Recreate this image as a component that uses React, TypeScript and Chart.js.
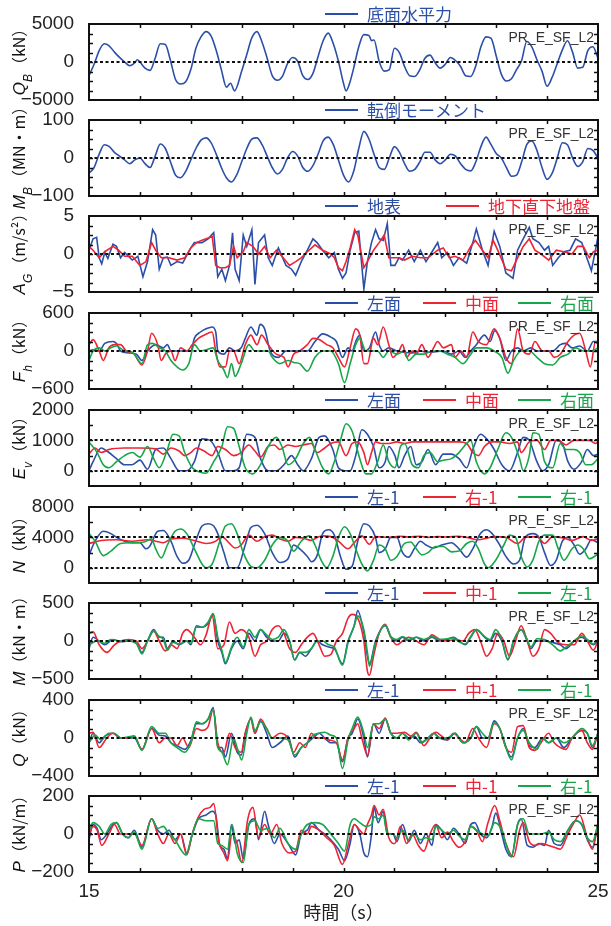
import React, { useEffect, useRef } from 'react';
import { Chart, registerables } from 'chart.js';
Chart.register(...registerables);

type P = [number, number][];

const BLUE = '#2b4fa8';
const RED = '#ee2435';
const GREEN = '#18a64a';

// Panel 1: Q_B (kN)
const qbBase: P = [[15.0,-1800],[15.1,-300],[15.2,1500],[15.3,2400],[15.4,2100],[15.5,1300],[15.6,600],[15.7,0],[15.8,-500],[15.9,-100],[15.95,300],[16.0,0],[16.1,-800],[16.2,-1100],[16.3,500],[16.4,2400],[16.5,2300],[16.6,200],[16.7,-2300],[16.8,-2900],[16.9,-2600],[17.0,-1000],[17.1,1800],[17.2,3300],[17.3,4000],[17.4,3400],[17.5,1500],[17.6,-1000],[17.7,-3300],[17.78,-2800],[17.86,-3800],[18.0,-1200],[18.1,1000],[18.2,3200],[18.3,4000],[18.4,2600],[18.5,500],[18.6,-1800],[18.7,-2400],[18.8,-1900],[18.9,-200],[19.0,600],[19.1,100],[19.2,-1800],[19.3,-2300],[19.4,-1500],[19.5,700],[19.6,2800],[19.7,3800],[19.8,2400],[19.9,100],[20.0,-2800],[20.05,-3800],[20.12,-2800],[20.2,-800],[20.3,2000],[20.4,3600],[20.5,3500],[20.55,2800],[20.6,2900],[20.7,100],[20.8,-1200],[20.9,-1000],[21.0,1800],[21.1,1200],[21.2,-600],[21.3,-1800],[21.4,-1900],[21.5,-1000],[21.6,500],[21.7,900],[21.8,-100],[21.9,-800],[22.0,-300],[22.1,600],[22.2,200],[22.3,-600],[22.4,-1800],[22.5,-1900],[22.6,-500],[22.7,2000],[22.8,3300],[22.9,3100],[23.0,800],[23.1,-1600],[23.2,-2500],[23.3,-2200],[23.4,-1000],[23.5,200],[23.6,2700],[23.7,2000],[23.8,300],[23.9,-1200],[24.0,-3200],[24.1,-2000],[24.2,-200],[24.3,1600],[24.4,2800],[24.5,1300],[24.6,-800],[24.7,-700],[24.8,1500],[24.9,2000],[25.0,500]];

// Panel 2: M_B (MN・m)
const mbBase: P = [[15.0,-40],[15.1,-25],[15.2,10],[15.3,35],[15.4,30],[15.5,15],[15.6,5],[15.7,-5],[15.8,-15],[15.9,-5],[16.0,0],[16.1,-15],[16.2,-25],[16.3,5],[16.4,37],[16.5,25],[16.6,-10],[16.7,-45],[16.8,-52],[16.9,-35],[17.0,-5],[17.1,25],[17.2,47],[17.3,53],[17.4,40],[17.5,10],[17.6,-25],[17.7,-52],[17.8,-63],[17.9,-45],[18.0,-10],[18.1,25],[18.2,50],[18.3,53],[18.4,35],[18.5,5],[18.6,-25],[18.7,-42],[18.8,-30],[18.9,0],[19.0,17],[19.1,5],[19.2,-25],[19.3,-35],[19.4,-20],[19.5,10],[19.6,45],[19.7,55],[19.8,35],[19.9,-5],[20.0,-45],[20.1,-63],[20.2,-35],[20.3,25],[20.4,70],[20.5,50],[20.6,10],[20.7,-25],[20.8,-30],[20.9,0],[21.0,30],[21.1,15],[21.2,-15],[21.3,-35],[21.4,-30],[21.5,-10],[21.6,15],[21.7,15],[21.8,-5],[21.9,-15],[22.0,-5],[22.1,10],[22.2,5],[22.3,-15],[22.4,-30],[22.5,-34],[22.6,-10],[22.7,30],[22.8,55],[22.9,35],[23.0,12],[23.1,0],[23.2,-25],[23.3,-48],[23.4,-45],[23.5,-10],[23.6,35],[23.7,45],[23.8,20],[23.9,-25],[24.0,-56],[24.1,-40],[24.2,0],[24.3,40],[24.4,35],[24.5,0],[24.6,-22],[24.7,-10],[24.8,25],[24.9,20],[25.0,0]];

// Panel 3: A_G (m/s2)
const agSurface: P = [[15.00,0.5],[15.08,2.0],[15.15,2.2],[15.20,-0.5],[15.25,-1.3],[15.31,0.2],[15.37,-0.6],[15.47,1.3],[15.54,1.0],[15.62,-0.5],[15.70,0.2],[15.85,-0.8],[15.96,-0.3],[16.06,-3.0],[16.15,-1.0],[16.25,3.2],[16.31,2.5],[16.38,-2.0],[16.46,-0.5],[16.54,-0.4],[16.61,-1.5],[16.73,-1.0],[16.84,-1.2],[17.00,0.8],[17.07,1.5],[17.22,1.5],[17.34,2.0],[17.45,2.8],[17.53,-3.0],[17.61,-2.0],[17.68,-3.5],[17.76,-1.5],[17.82,2.8],[17.87,-2.0],[17.95,-3.5],[18.03,2.5],[18.10,1.0],[18.20,3.2],[18.26,-4.0],[18.33,1.5],[18.45,2.5],[18.52,-0.5],[18.60,-1.5],[18.72,0.8],[18.87,-1.5],[18.98,-2.0],[19.06,-2.8],[19.17,-1.0],[19.29,0.5],[19.40,2.0],[19.48,1.5],[19.59,0.5],[19.71,-0.5],[19.82,0.2],[19.90,-2.0],[19.98,-3.2],[20.05,-2.5],[20.13,0.5],[20.22,2.8],[20.30,3.0],[20.40,-4.6],[20.47,-1.0],[20.55,1.5],[20.63,3.2],[20.70,2.0],[20.78,1.8],[20.86,4.0],[20.93,-1.5],[21.01,-1.5],[21.09,-0.5],[21.16,-0.8],[21.28,0.5],[21.39,-1.0],[21.51,0.5],[21.62,-1.0],[21.74,0.3],[21.85,1.5],[21.93,-0.5],[22.04,0.2],[22.16,-1.5],[22.27,-0.5],[22.42,-1.2],[22.54,1.5],[22.61,3.3],[22.73,0.5],[22.84,-1.5],[22.96,3.0],[23.07,1.0],[23.19,-2.5],[23.33,-3.2],[23.42,0.5],[23.53,2.0],[23.65,3.5],[23.72,2.0],[23.84,1.5],[23.95,0.5],[24.03,1.0],[24.11,-1.5],[24.22,-0.5],[24.33,0.3],[24.45,0.5],[24.56,2.0],[24.68,1.5],[24.78,-0.5],[24.87,-2.2],[24.95,0.5],[25.00,2.3]];
const agUnder: P = [[15.00,1.0],[15.08,0.5],[15.20,-0.5],[15.31,0.3],[15.47,1.0],[15.58,0.5],[15.70,-0.3],[15.85,-0.3],[16.00,-1.5],[16.12,-1.0],[16.23,1.5],[16.31,0.5],[16.42,-0.5],[16.57,-0.5],[16.73,-0.8],[16.88,-0.5],[17.00,0.8],[17.11,1.5],[17.22,1.8],[17.42,2.3],[17.49,-1.5],[17.57,-1.8],[17.68,-1.8],[17.76,-1.5],[17.84,1.0],[17.91,-0.5],[18.03,0.3],[18.10,1.5],[18.22,1.0],[18.33,0.0],[18.45,1.0],[18.56,-0.5],[18.68,0.5],[18.79,-0.3],[18.94,-1.5],[19.06,-1.0],[19.17,-0.5],[19.29,0.3],[19.44,1.2],[19.59,0.5],[19.75,0.0],[19.82,-0.5],[19.90,-1.8],[19.98,-2.2],[20.05,-1.0],[20.13,0.8],[20.22,3.2],[20.28,2.5],[20.40,-1.8],[20.47,-1.0],[20.59,0.5],[20.70,1.5],[20.80,2.5],[20.89,-0.5],[20.97,-0.5],[21.09,-0.5],[21.20,-0.8],[21.35,-0.3],[21.51,-0.5],[21.66,-0.5],[21.85,0.5],[21.96,0.8],[22.08,-0.5],[22.19,-0.3],[22.35,-0.8],[22.50,1.0],[22.59,1.8],[22.73,0.5],[22.84,-0.5],[22.94,1.8],[23.03,0.5],[23.19,-2.0],[23.30,-2.2],[23.42,-0.5],[23.53,1.0],[23.65,2.0],[23.76,0.5],[23.88,0.0],[24.03,-0.8],[24.18,0.5],[24.33,0.3],[24.49,0.0],[24.60,1.0],[24.71,1.0],[24.83,-0.5],[24.91,0.3],[25.00,0.5]];

// Panel 4: F_h (kN)
const fhLeft: P = [[15.00,0],[15.08,20],[15.20,0],[15.31,120],[15.47,150],[15.54,120],[15.62,0],[15.77,-30],[15.93,-50],[16.04,-150],[16.15,0],[16.31,100],[16.46,50],[16.54,100],[16.61,0],[16.77,0],[17.00,0],[17.07,200],[17.19,300],[17.30,350],[17.42,380],[17.49,300],[17.53,0],[17.65,-50],[17.76,50],[17.87,0],[17.99,50],[18.07,200],[18.18,380],[18.30,250],[18.36,420],[18.45,350],[18.56,0],[18.72,-100],[18.87,0],[19.29,0],[19.44,150],[19.59,270],[19.75,220],[19.86,150],[19.98,-100],[20.09,50],[20.17,0],[20.24,150],[20.32,250],[20.40,0],[20.51,50],[20.63,300],[20.70,100],[20.78,0],[20.89,50],[21.05,0],[21.35,-30],[21.51,0],[21.66,-20],[21.96,0],[22.12,-50],[22.27,0],[22.39,-100],[22.50,0],[22.61,100],[22.77,250],[22.88,150],[22.97,320],[23.07,200],[23.19,-150],[23.30,0],[23.42,50],[23.53,0],[23.68,50],[23.80,0],[24.11,0],[24.26,100],[24.37,120],[24.49,50],[24.64,80],[24.79,0],[24.91,150],[25.00,150]];
const fhCenter: P = [[15.00,100],[15.08,180],[15.20,0],[15.28,-150],[15.39,50],[15.50,100],[15.62,100],[15.73,0],[15.89,-50],[16.04,-220],[16.15,0],[16.23,280],[16.35,100],[16.42,-150],[16.50,-50],[16.61,0],[16.69,-150],[16.80,50],[16.92,0],[17.03,100],[17.15,200],[17.26,250],[17.42,300],[17.49,0],[17.57,-250],[17.68,-250],[17.76,0],[17.84,0],[17.95,-200],[18.07,100],[18.18,250],[18.30,100],[18.39,250],[18.52,100],[18.68,-50],[18.83,-100],[18.91,-250],[19.02,-50],[19.14,0],[19.29,100],[19.40,200],[19.52,180],[19.67,100],[19.79,50],[19.90,-100],[20.02,-250],[20.13,50],[20.24,350],[20.32,250],[20.40,-200],[20.47,-200],[20.59,200],[20.67,100],[20.78,380],[20.89,100],[20.97,-100],[21.09,0],[21.16,100],[21.24,-100],[21.35,0],[21.43,-50],[21.54,100],[21.66,-100],[21.77,50],[21.85,150],[21.96,50],[22.12,100],[22.19,-100],[22.31,0],[22.42,-100],[22.54,300],[22.65,150],[22.81,100],[22.96,350],[23.07,200],[23.19,-100],[23.30,-200],[23.42,350],[23.53,0],[23.65,-50],[23.76,150],[23.91,0],[24.03,0],[24.14,-100],[24.26,-50],[24.41,150],[24.53,250],[24.64,280],[24.76,0],[24.85,-250],[24.95,150],[25.00,100]];
const fhRight: P = [[15.00,-150],[15.08,0],[15.20,50],[15.31,0],[15.43,50],[15.54,80],[15.70,0],[15.85,-20],[16.04,-200],[16.15,100],[16.25,120],[16.38,50],[16.50,0],[16.61,-150],[16.73,-250],[16.84,-300],[16.96,-200],[17.07,100],[17.19,0],[17.30,20],[17.44,50],[17.53,-150],[17.65,-300],[17.72,-420],[17.80,-200],[17.87,-400],[17.99,-200],[18.14,100],[18.26,0],[18.52,0],[18.60,-100],[18.75,-200],[18.91,-150],[19.02,-180],[19.14,-200],[19.29,-320],[19.44,-100],[19.59,0],[19.75,0],[19.90,-200],[20.02,-500],[20.13,-200],[20.24,100],[20.32,200],[20.44,0],[20.67,0],[20.78,-100],[20.89,0],[21.05,-50],[21.20,0],[21.28,-150],[21.43,-50],[21.58,-50],[21.74,0],[21.89,0],[22.04,-50],[22.19,-100],[22.35,-200],[22.50,-50],[22.61,50],[22.81,50],[22.96,0],[23.11,-100],[23.23,-350],[23.34,-150],[23.49,0],[23.65,0],[23.80,-100],[23.95,-200],[24.11,-220],[24.26,-100],[24.41,-50],[24.56,50],[24.71,0],[24.87,0],[25.00,50]];

// Panel 5: E_v (kN)
const evLeft: P = [[15.00,0],[15.08,300],[15.24,750],[15.35,650],[15.54,400],[15.70,200],[15.85,200],[16.00,350],[16.15,50],[16.31,700],[16.46,750],[16.61,400],[16.77,0],[16.92,0],[17.07,300],[17.22,1050],[17.38,1000],[17.53,600],[17.68,0],[17.84,0],[17.95,100],[18.10,1200],[18.26,1100],[18.37,400],[18.52,0],[18.68,0],[18.83,200],[18.98,500],[19.10,200],[19.21,0],[19.37,400],[19.52,1100],[19.63,1150],[19.79,700],[19.90,100],[20.02,0],[20.13,0],[20.24,500],[20.36,1350],[20.47,1200],[20.59,800],[20.70,100],[20.82,300],[20.89,800],[21.01,500],[21.09,100],[21.20,500],[21.32,800],[21.43,200],[21.54,300],[21.66,700],[21.81,200],[21.96,550],[22.12,550],[22.27,400],[22.42,100],[22.54,700],[22.69,1200],[22.84,1000],[22.96,700],[23.11,200],[23.26,0],[23.42,600],[23.53,1100],[23.65,1000],[23.80,300],[23.91,0],[24.03,200],[24.18,1000],[24.30,900],[24.41,300],[24.53,50],[24.68,300],[24.79,700],[24.91,500],[25.00,550]];
const evCenter: P = [[15.00,550],[15.12,750],[15.24,600],[15.39,700],[15.70,750],[16.00,750],[16.31,720],[16.46,550],[16.61,750],[16.77,650],[16.88,500],[17.00,600],[17.11,750],[17.26,650],[17.42,500],[17.53,800],[17.68,700],[17.84,500],[17.99,600],[18.14,850],[18.26,650],[18.37,450],[18.52,800],[18.64,850],[18.75,700],[18.91,850],[19.06,800],[19.21,850],[19.37,900],[19.48,600],[19.59,700],[19.75,900],[19.90,950],[20.05,500],[20.17,900],[20.28,950],[20.40,600],[20.47,200],[20.55,600],[20.63,950],[20.74,900],[20.89,900],[21.05,950],[21.20,900],[21.35,950],[21.66,950],[22.00,950],[22.27,950],[22.42,900],[22.54,600],[22.65,500],[22.77,800],[22.92,950],[23.07,950],[23.26,900],[23.42,950],[23.49,600],[23.65,950],[23.80,1000],[23.95,700],[24.07,1000],[24.22,1000],[24.37,850],[24.53,1000],[24.68,1000],[24.83,1000],[24.95,900],[25.00,950]];
const evRight: P = [[15.00,950],[15.16,600],[15.28,200],[15.39,100],[15.54,300],[15.70,500],[15.85,600],[16.00,450],[16.15,800],[16.27,400],[16.38,100],[16.54,700],[16.65,1200],[16.77,1150],[16.88,600],[17.03,100],[17.19,-50],[17.30,-80],[17.45,300],[17.61,800],[17.72,1450],[17.84,1400],[17.95,800],[18.07,100],[18.22,-100],[18.37,200],[18.52,800],[18.68,1100],[18.79,800],[18.91,200],[19.06,400],[19.21,900],[19.33,1100],[19.44,700],[19.59,100],[19.71,-100],[19.82,300],[19.94,1000],[20.05,1550],[20.17,1300],[20.32,400],[20.44,-100],[20.55,-100],[20.67,300],[20.78,850],[20.89,300],[21.01,100],[21.12,800],[21.20,900],[21.35,200],[21.47,100],[21.58,500],[21.70,600],[21.85,300],[21.96,350],[22.12,400],[22.27,600],[22.42,900],[22.50,1000],[22.61,300],[22.77,-100],[22.88,100],[23.03,700],[23.19,1250],[23.30,1100],[23.46,400],[23.53,0],[23.65,500],[23.72,1250],[23.84,1200],[23.95,300],[24.11,100],[24.26,900],[24.37,700],[24.53,700],[24.64,600],[24.76,200],[24.87,200],[25.00,400]];

// Panel 6: N (kN)
const nLeft: P = [[15.00,1700],[15.12,3500],[15.28,4800],[15.43,4500],[15.54,4000],[15.70,3500],[15.85,3300],[16.00,3300],[16.12,2500],[16.19,2800],[16.35,4800],[16.46,4900],[16.61,3500],[16.73,1500],[16.84,600],[16.96,1000],[17.07,3000],[17.22,5500],[17.34,5800],[17.45,5500],[17.53,4500],[17.65,2000],[17.76,0],[17.91,0],[18.07,3000],[18.18,5300],[18.30,5600],[18.45,4500],[18.60,2000],[18.75,700],[18.91,1200],[19.02,3000],[19.14,2500],[19.29,1500],[19.37,800],[19.48,1600],[19.59,4500],[19.71,5000],[19.82,4300],[19.94,1500],[20.05,-200],[20.17,200],[20.28,3500],[20.40,5800],[20.51,5500],[20.63,4000],[20.70,2000],[20.82,2500],[20.93,4000],[21.05,4000],[21.16,2000],[21.28,1400],[21.39,2500],[21.51,3500],[21.62,3000],[21.77,2600],[21.93,3000],[22.12,3300],[22.27,2500],[22.42,1400],[22.54,2500],[22.69,4500],[22.81,5000],[22.92,4500],[23.07,3000],[23.19,1500],[23.34,500],[23.46,1000],[23.57,4000],[23.72,4500],[23.84,4000],[23.95,2000],[24.07,300],[24.18,1000],[24.30,3500],[24.41,4000],[24.53,3000],[24.64,1800],[24.76,2500],[24.87,3700],[25.00,3300]];
const nRightA: P = [[15.00,3200],[15.24,3600],[15.54,3700],[15.85,3500],[16.15,3700],[16.31,3500],[16.46,3300],[16.61,3800],[16.84,3900],[17.07,3600],[17.30,3200],[17.49,3500],[17.61,4100],[17.76,3200],[17.87,2600],[17.99,3000],[18.14,4300],[18.30,3500],[18.45,4100],[18.60,4300],[18.75,3800],[18.91,3500],[19.06,4000],[19.21,3900],[19.37,3600],[19.48,4000],[19.59,4200],[19.75,4100],[19.90,3500],[20.09,2500],[20.21,3300],[20.36,4200],[20.51,3100],[20.63,4100],[20.89,4000],[21.10,4150],[21.28,4050],[21.50,4150],[21.66,4000],[21.85,4100],[22.04,4050],[22.25,4150],[22.42,4000],[22.65,3700],[22.81,3900],[22.96,4100],[23.19,4000],[23.42,3200],[23.57,4000],[23.80,4100],[23.95,3200],[24.11,4100],[24.33,3900],[24.49,3600],[24.71,4100],[24.87,3600],[25.00,3800]];
const nRightB: P = [[15.00,4500],[15.12,3500],[15.28,1600],[15.43,2200],[15.62,3200],[15.85,3300],[16.08,3400],[16.23,3800],[16.31,2500],[16.42,1300],[16.54,3000],[16.69,4800],[16.80,5100],[16.92,4500],[17.07,2500],[17.22,500],[17.30,0],[17.42,500],[17.57,3500],[17.68,5500],[17.80,5800],[17.91,4500],[18.03,2000],[18.18,200],[18.30,0],[18.45,1000],[18.60,3000],[18.75,4000],[18.91,3500],[19.02,2200],[19.17,3500],[19.33,4200],[19.44,3000],[19.56,1000],[19.67,0],[19.79,1500],[19.90,4000],[20.02,5400],[20.13,4500],[20.24,2500],[20.36,500],[20.47,-400],[20.59,1000],[20.70,3000],[20.82,2500],[20.93,1000],[21.05,1500],[21.20,3200],[21.32,3400],[21.43,2500],[21.54,1700],[21.66,2000],[21.81,2800],[21.96,2800],[22.12,2100],[22.27,2200],[22.42,3200],[22.54,3500],[22.65,2500],[22.77,500],[22.84,0],[22.99,1000],[23.15,3000],[23.26,4300],[23.38,4000],[23.49,1500],[23.61,100],[23.72,1000],[23.84,3500],[23.95,4300],[24.11,4300],[24.22,2500],[24.33,1000],[24.49,2500],[24.60,3000],[24.71,2500],[24.83,1200],[25.00,1800]];

// Panel 7: M (kN・m)
const mLeftA: P = [[15.00,-100],[15.08,50],[15.20,0],[15.31,-50],[15.47,20],[15.62,-10],[15.77,0],[15.93,-30],[16.04,-150],[16.15,0],[16.27,150],[16.38,50],[16.46,50],[16.54,-100],[16.65,0],[16.77,-50],[16.92,0],[17.00,-50],[17.11,200],[17.22,180],[17.34,230],[17.44,350],[17.53,0],[17.61,-150],[17.68,-300],[17.80,-100],[17.91,0],[18.03,-100],[18.14,100],[18.26,0],[18.37,150],[18.49,50],[18.60,0],[18.72,0],[18.83,100],[18.94,0],[19.04,-250],[19.14,-150],[19.25,-200],[19.37,-100],[19.48,0],[19.59,-50],[19.71,-80],[19.82,-100],[19.98,-300],[20.09,0],[20.21,200],[20.28,400],[20.40,100],[20.47,-200],[20.51,-300],[20.63,0],[20.82,200],[20.93,50],[21.05,0],[21.16,50],[21.28,0],[21.43,50],[21.58,0],[21.74,50],[21.89,0],[22.04,20],[22.16,50],[22.27,0],[22.39,-50],[22.50,50],[22.61,150],[22.77,50],[22.88,0],[22.99,100],[23.11,0],[23.23,-250],[23.34,0],[23.49,150],[23.61,0],[23.68,-100],[23.80,0],[23.95,0],[24.11,-20],[24.26,-50],[24.37,-100],[24.53,0],[24.68,50],[24.79,0],[24.91,-50],[25.00,0]];
const mCenter: P = [[15.00,100],[15.08,120],[15.20,-50],[15.35,-150],[15.50,-50],[15.62,0],[15.77,20],[15.93,0],[16.04,-100],[16.15,0],[16.27,130],[16.38,0],[16.50,-130],[16.61,-50],[16.73,-100],[16.84,100],[16.92,150],[17.07,50],[17.19,-50],[17.30,80],[17.42,330],[17.53,-100],[17.65,-50],[17.76,250],[17.87,100],[17.99,150],[18.14,50],[18.26,-200],[18.37,-50],[18.49,0],[18.60,150],[18.72,200],[18.83,100],[18.94,-100],[19.06,-150],[19.17,-50],[19.29,50],[19.40,100],[19.52,-50],[19.63,-200],[19.75,-180],[19.86,0],[19.98,100],[20.09,300],[20.17,350],[20.28,300],[20.40,0],[20.47,-400],[20.51,-450],[20.59,-200],[20.70,100],[20.82,220],[20.93,50],[21.05,-50],[21.16,0],[21.28,50],[21.43,0],[21.58,-50],[21.74,80],[21.89,20],[22.04,0],[22.19,20],[22.35,0],[22.46,100],[22.58,150],[22.69,0],[22.81,-200],[22.92,-100],[23.03,100],[23.15,0],[23.26,-200],[23.38,0],[23.49,200],[23.61,0],[23.72,-200],[23.84,-100],[23.95,150],[24.07,100],[24.22,-20],[24.37,-50],[24.53,-50],[24.68,100],[24.79,0],[24.91,-120],[25.00,0]];
const mLeftB: P = [[15.00,-50],[15.16,0],[15.31,-30],[15.43,20],[15.62,0],[15.77,0],[15.93,-30],[16.04,-170],[16.15,0],[16.27,130],[16.38,60],[16.46,20],[16.54,-120],[16.65,-20],[16.77,-40],[16.92,0],[17.00,-30],[17.11,180],[17.22,180],[17.34,250],[17.44,360],[17.53,50],[17.61,-120],[17.68,-280],[17.80,-80],[17.91,50],[18.03,-80],[18.14,150],[18.26,50],[18.37,150],[18.49,80],[18.60,20],[18.72,50],[18.83,150],[18.94,0],[19.04,-250],[19.14,-150],[19.25,-150],[19.37,-100],[19.48,0],[19.59,0],[19.71,-50],[19.82,-80],[19.98,-320],[20.09,-20],[20.21,200],[20.28,330],[20.40,150],[20.47,-150],[20.51,-330],[20.63,-20],[20.82,210],[20.93,60],[21.05,20],[21.16,60],[21.28,20],[21.43,50],[21.58,20],[21.74,60],[21.89,20],[22.04,30],[22.16,40],[22.27,-10],[22.39,-40],[22.50,60],[22.61,150],[22.77,60],[22.88,20],[22.99,150],[23.11,20],[23.23,-240],[23.34,0],[23.49,150],[23.61,20],[23.68,-80],[23.80,30],[23.95,20],[24.11,-50],[24.26,-130],[24.37,-80],[24.53,0],[24.68,70],[24.79,20],[24.91,-40],[25.00,20]];

// Panel 8: Q (kN)
const qLeft: P = [[15.00,-50],[15.08,50],[15.20,-50],[15.31,20],[15.47,50],[15.62,0],[15.89,0],[16.04,-120],[16.23,100],[16.38,30],[16.50,20],[16.61,-50],[16.73,-80],[16.88,-120],[17.00,-30],[17.11,150],[17.22,150],[17.34,200],[17.44,320],[17.53,-100],[17.61,-100],[17.68,-200],[17.80,50],[17.91,-150],[17.99,-180],[18.07,50],[18.18,200],[18.26,50],[18.37,180],[18.49,50],[18.60,-100],[18.75,-50],[18.91,20],[19.04,-200],[19.17,-100],[19.29,-50],[19.40,0],[19.52,50],[19.63,0],[19.75,-50],[19.86,-50],[19.98,-250],[20.09,0],[20.17,50],[20.28,200],[20.40,0],[20.47,-200],[20.59,150],[20.70,50],[20.82,200],[20.93,50],[21.05,0],[21.16,50],[21.28,0],[21.39,20],[21.51,-50],[21.66,0],[21.77,50],[21.89,0],[22.04,-20],[22.19,50],[22.35,-50],[22.50,0],[22.61,120],[22.73,0],[22.84,0],[22.96,180],[23.07,100],[23.23,-150],[23.30,-200],[23.42,0],[23.53,100],[23.65,-80],[23.76,-100],[23.91,0],[24.03,-50],[24.18,0],[24.33,-100],[24.49,0],[24.68,80],[24.79,50],[24.89,-100],[25.00,50]];
const qCenter: P = [[15.00,50],[15.08,60],[15.20,-100],[15.35,0],[15.47,50],[15.62,0],[15.77,0],[15.89,20],[16.04,-120],[16.23,100],[16.38,-50],[16.50,0],[16.61,0],[16.73,-80],[16.84,0],[16.96,-100],[17.11,100],[17.22,80],[17.34,120],[17.44,300],[17.53,-50],[17.65,-150],[17.76,50],[17.87,-100],[17.99,-150],[18.07,50],[18.18,200],[18.26,50],[18.37,200],[18.49,100],[18.60,0],[18.75,50],[18.91,0],[19.02,-150],[19.14,-50],[19.25,-100],[19.37,50],[19.48,0],[19.59,0],[19.71,-20],[19.86,-50],[19.98,-230],[20.09,0],[20.21,100],[20.28,150],[20.36,0],[20.47,-180],[20.59,150],[20.70,100],[20.82,210],[20.93,50],[21.05,50],[21.20,60],[21.32,20],[21.43,60],[21.58,-80],[21.70,0],[21.81,60],[21.93,20],[22.04,-20],[22.16,50],[22.27,0],[22.39,-50],[22.54,100],[22.65,0],[22.81,-100],[22.96,150],[23.07,100],[23.19,-100],[23.30,-150],[23.42,120],[23.53,130],[23.65,-100],[23.76,-130],[23.88,-50],[24.03,50],[24.14,-50],[24.26,-100],[24.37,-120],[24.49,0],[24.68,80],[24.79,-50],[24.89,-120],[25.00,60]];
const qRight: P = [[15.00,-50],[15.12,30],[15.24,-20],[15.39,50],[15.50,50],[15.62,0],[15.89,20],[16.04,-130],[16.23,120],[16.38,50],[16.50,50],[16.61,-50],[16.73,-100],[16.88,-150],[17.00,-50],[17.11,170],[17.22,150],[17.34,200],[17.44,300],[17.53,-100],[17.61,-150],[17.72,-280],[17.84,0],[17.91,-100],[18.00,-230],[18.10,50],[18.18,220],[18.26,80],[18.37,170],[18.49,100],[18.60,0],[18.75,0],[18.91,-20],[19.04,-180],[19.17,-100],[19.29,-50],[19.40,30],[19.52,50],[19.63,60],[19.75,30],[19.86,0],[19.98,-320],[20.09,-20],[20.17,100],[20.28,220],[20.40,50],[20.47,-100],[20.59,150],[20.70,150],[20.82,200],[20.93,50],[21.05,0],[21.16,50],[21.28,-20],[21.43,50],[21.54,-50],[21.66,0],[21.77,50],[21.89,0],[22.04,0],[22.19,50],[22.35,-50],[22.50,0],[22.61,120],[22.73,50],[22.84,0],[22.96,160],[23.07,100],[23.19,-100],[23.30,-230],[23.42,0],[23.53,80],[23.65,-50],[23.80,-120],[23.91,0],[24.03,-50],[24.18,0],[24.33,-50],[24.49,0],[24.68,100],[24.79,50],[24.89,-80],[25.00,50]];

// Panel 9: P (kN/m)
const pLeft: P = [[15.00,-30],[15.08,50],[15.16,30],[15.24,-30],[15.35,0],[15.47,50],[15.54,60],[15.66,0],[15.77,-20],[15.89,20],[16.04,-70],[16.23,80],[16.35,20],[16.46,0],[16.57,20],[16.69,-30],[16.80,0],[16.92,-100],[17.03,0],[17.15,80],[17.30,100],[17.42,120],[17.49,100],[17.57,-60],[17.65,-80],[17.72,-130],[17.80,50],[17.87,-50],[17.95,-30],[18.03,-130],[18.14,50],[18.26,80],[18.33,-30],[18.45,120],[18.52,50],[18.64,-50],[18.75,0],[18.91,-50],[19.06,-110],[19.17,0],[19.29,20],[19.37,60],[19.52,20],[19.63,0],[19.75,-30],[19.90,-80],[20.02,-140],[20.13,-50],[20.21,50],[20.32,0],[20.40,-100],[20.47,-120],[20.55,0],[20.60,140],[20.68,60],[20.78,120],[20.86,0],[20.97,0],[21.05,-40],[21.16,50],[21.28,-40],[21.39,20],[21.51,-50],[21.62,0],[21.74,-60],[21.81,50],[21.93,20],[22.04,-30],[22.16,30],[22.27,0],[22.39,-50],[22.50,50],[22.58,60],[22.69,0],[22.81,-20],[22.92,40],[22.99,110],[23.11,0],[23.19,-80],[23.30,-120],[23.42,50],[23.49,80],[23.61,-60],[23.72,-70],[23.84,-50],[23.95,-60],[24.03,20],[24.14,-50],[24.26,-60],[24.41,20],[24.56,70],[24.68,50],[24.79,-30],[24.89,-70],[25.00,60]];
const pCenter: P = [[15.00,0],[15.08,40],[15.16,20],[15.25,-60],[15.39,0],[15.50,50],[15.62,0],[15.89,0],[16.04,-60],[16.23,80],[16.35,0],[16.46,-50],[16.57,0],[16.69,-50],[16.80,0],[16.92,-110],[17.03,0],[17.15,90],[17.26,130],[17.38,140],[17.45,160],[17.55,-40],[17.65,-100],[17.72,-140],[17.81,0],[17.91,-50],[18.00,-150],[18.12,80],[18.22,140],[18.33,-20],[18.45,50],[18.56,0],[18.69,50],[18.79,-50],[18.94,-100],[19.06,-90],[19.17,20],[19.29,0],[19.37,40],[19.52,20],[19.67,-20],[19.82,-60],[19.98,-160],[20.09,-60],[20.21,50],[20.32,20],[20.40,0],[20.47,50],[20.55,100],[20.60,150],[20.70,100],[20.78,130],[20.89,-20],[21.01,-50],[21.12,40],[21.24,-50],[21.35,0],[21.47,-60],[21.58,-90],[21.70,0],[21.81,50],[21.93,-20],[22.04,10],[22.16,-40],[22.27,-70],[22.39,-40],[22.50,40],[22.61,20],[22.73,-40],[22.84,60],[22.97,150],[23.07,70],[23.19,-50],[23.34,-120],[23.46,20],[23.53,60],[23.65,-40],[23.76,-60],[23.88,-50],[24.03,-60],[24.14,-70],[24.26,-80],[24.41,0],[24.53,60],[24.64,100],[24.79,-20],[24.89,-80],[25.00,60]];
const pRight: P = [[15.00,20],[15.08,60],[15.20,40],[15.31,0],[15.43,50],[15.54,60],[15.66,0],[15.77,-20],[15.89,10],[16.04,-80],[16.23,80],[16.35,30],[16.46,40],[16.57,0],[16.69,-30],[16.80,-80],[16.90,-110],[17.03,0],[17.15,80],[17.30,70],[17.45,70],[17.53,-50],[17.61,-60],[17.72,-80],[17.81,50],[17.91,-100],[18.03,-150],[18.14,50],[18.26,70],[18.37,20],[18.52,30],[18.64,-20],[18.75,30],[18.91,-50],[19.06,-80],[19.17,0],[19.29,50],[19.44,60],[19.59,50],[19.75,0],[19.90,-50],[20.02,-90],[20.13,50],[20.21,80],[20.32,60],[20.44,40],[20.55,50],[20.60,90],[20.70,80],[20.78,100],[20.86,0],[20.97,0],[21.05,-20],[21.16,20],[21.28,-30],[21.39,0],[21.51,-30],[21.62,-20],[21.74,-30],[21.81,40],[21.93,20],[22.04,0],[22.16,20],[22.27,-10],[22.39,-30],[22.50,40],[22.61,20],[22.73,0],[22.84,-10],[22.97,60],[23.11,20],[23.19,-50],[23.30,-120],[23.42,50],[23.53,80],[23.65,0],[23.76,0],[23.88,0],[24.03,10],[24.14,-30],[24.26,-40],[24.41,20],[24.56,70],[24.68,50],[24.79,-20],[24.89,-40],[25.00,50]];

const xTickLabels = [15, 20, 25];

interface Series { label: string; color: string; data: P; order: number }
interface Panel {
  min: number; max: number; labels: number[]; minor: number; refs: number[];
  sym: string; sub: string; unit: string; legendX: number[]; smooth: boolean; series: Series[];
}

const L3 = [325, 423, 518];

const panels: Panel[] = [
  { min: -5000, max: 5000, labels: [-5000, 0, 5000], minor: 1250, refs: [0], sym: 'Q', sub: 'B', unit: '（kN）', legendX: [325], smooth: true,
    series: [{ label: '底面水平力', color: BLUE, data: qbBase, order: 1 }] },
  { min: -100, max: 100, labels: [-100, 0, 100], minor: 25, refs: [0], sym: 'M', sub: 'B', unit: '（MN・m）', legendX: [325], smooth: true,
    series: [{ label: '転倒モーメント', color: BLUE, data: mbBase, order: 1 }] },
  { min: -5, max: 5, labels: [-5, 0, 5], minor: 1.25, refs: [0], sym: 'A', sub: 'G', unit: '（m/s²）', legendX: [325, 446], smooth: false,
    series: [{ label: '地表', color: BLUE, data: agSurface, order: 2 }, { label: '地下直下地盤', color: RED, data: agUnder, order: 1 }] },
  { min: -600, max: 600, labels: [-600, 0, 600], minor: 150, refs: [0], sym: 'F', sub: 'h', unit: '（kN）', legendX: L3, smooth: true,
    series: [{ label: '左面', color: BLUE, data: fhLeft, order: 3 }, { label: '中面', color: RED, data: fhCenter, order: 2 }, { label: '右面', color: GREEN, data: fhRight, order: 1 }] },
  { min: -500, max: 2000, labels: [0, 1000, 2000], minor: 500, refs: [0, 1000], sym: 'E', sub: 'v', unit: '（kN）', legendX: L3, smooth: true,
    series: [{ label: '左面', color: BLUE, data: evLeft, order: 3 }, { label: '中面', color: RED, data: evCenter, order: 2 }, { label: '右面', color: GREEN, data: evRight, order: 1 }] },
  { min: -2000, max: 8000, labels: [0, 4000, 8000], minor: 2000, refs: [0, 4000], sym: 'N', sub: '', unit: '（kN）', legendX: L3, smooth: true,
    series: [{ label: '左-1', color: BLUE, data: nLeft, order: 3 }, { label: '右-1', color: RED, data: nRightA, order: 2 }, { label: '右-1', color: GREEN, data: nRightB, order: 1 }] },
  { min: -500, max: 500, labels: [-500, 0, 500], minor: 125, refs: [0], sym: 'M', sub: '', unit: '（kN・m）', legendX: L3, smooth: true,
    series: [{ label: '左-1', color: BLUE, data: mLeftA, order: 3 }, { label: '中-1', color: RED, data: mCenter, order: 2 }, { label: '左-1', color: GREEN, data: mLeftB, order: 1 }] },
  { min: -400, max: 400, labels: [-400, 0, 400], minor: 100, refs: [0], sym: 'Q', sub: '', unit: '（kN）', legendX: L3, smooth: true,
    series: [{ label: '左-1', color: BLUE, data: qLeft, order: 3 }, { label: '中-1', color: RED, data: qCenter, order: 2 }, { label: '右-1', color: GREEN, data: qRight, order: 1 }] },
  { min: -200, max: 200, labels: [-200, 0, 200], minor: 50, refs: [0], sym: 'P', sub: '', unit: '（kN/m）', legendX: L3, smooth: true,
    series: [{ label: '左-1', color: BLUE, data: pLeft, order: 3 }, { label: '中-1', color: RED, data: pCenter, order: 2 }, { label: '右-1', color: GREEN, data: pRight, order: 1 }] },
];

const W = 611;
const H = 926;
const TOPS = [24, 120, 216, 313, 410, 507, 603, 700, 796];
const PH = 76;
const FONT_NUM = '"Liberation Sans Narrow", "Liberation Sans", Arial, sans-serif';
const FONT_SANS = '"Liberation Sans", Arial, sans-serif';
const FONT_JP = '"Noto Sans CJK JP", "Noto Sans", sans-serif';

function fmt(v: number): string {
  return v < 0 ? '\u2212' + String(Math.abs(v)) : String(v);
}

function makeFrame(p: Panel) {
  return {
    id: 'frame',
    afterDatasetsDraw(chart: any) {
      const { ctx, chartArea: a, scales } = chart;
      const xs = scales.x;
      const ys = scales.y;
      ctx.save();
      ctx.strokeStyle = '#111';
      ctx.lineWidth = 2;
      ctx.setLineDash([3, 2.5]);
      for (const v of p.refs) {
        const py = Math.round(ys.getPixelForValue(v));
        ctx.beginPath();
        ctx.moveTo(a.left, py);
        ctx.lineTo(a.right, py);
        ctx.stroke();
      }
      ctx.setLineDash([]);
      ctx.lineWidth = 1.5;
      ctx.beginPath();
      for (let t = 16; t < 25; t++) {
        const px = Math.round(xs.getPixelForValue(t)) + 0.5;
        ctx.moveTo(px, a.top);
        ctx.lineTo(px, a.top + 4);
        ctx.moveTo(px, a.bottom);
        ctx.lineTo(px, a.bottom - 4);
      }
      for (let v = p.min + p.minor; v < p.max - 1e-9; v += p.minor) {
        const py = Math.round(ys.getPixelForValue(v)) + 0.5;
        ctx.moveTo(a.left, py);
        ctx.lineTo(a.left + 4, py);
        ctx.moveTo(a.right, py);
        ctx.lineTo(a.right - 4, py);
      }
      ctx.stroke();
      ctx.lineWidth = 2;
      ctx.strokeRect(a.left, a.top, a.right - a.left, a.bottom - a.top);
      ctx.fillStyle = '#333';
      ctx.font = `14px ${FONT_SANS}`;
      ctx.textAlign = 'right';
      ctx.textBaseline = 'alphabetic';
      ctx.fillText('PR_E_SF_L2', a.right - 4, a.top + 18);
      const ly = a.top - 10;
      p.series.forEach((s, i) => {
        const x0 = p.legendX[i];
        ctx.strokeStyle = s.color;
        ctx.lineWidth = 2;
        ctx.beginPath();
        ctx.moveTo(x0, ly);
        ctx.lineTo(x0 + 33, ly);
        ctx.stroke();
        ctx.fillStyle = s.color;
        ctx.font = `17px ${FONT_JP}`;
        ctx.textAlign = 'left';
        ctx.textBaseline = 'middle';
        ctx.fillText(s.label, x0 + 42, ly + 1);
      });
      // rotated y-axis title with italic symbol and subscript
      ctx.save();
      ctx.translate(25, (a.top + a.bottom) / 2);
      ctx.rotate(-Math.PI / 2);
      ctx.fillStyle = '#111';
      ctx.textAlign = 'left';
      ctx.textBaseline = 'alphabetic';
      const fSym = `italic 17px ${FONT_SANS}`;
      const fSub = `italic 12px ${FONT_SANS}`;
      const fUnit = `16px ${FONT_JP}`;
      ctx.font = fSym;
      const w1 = ctx.measureText(p.sym).width;
      ctx.font = fSub;
      const w2 = p.sub ? ctx.measureText(p.sub).width + 1 : 0;
      ctx.font = fUnit;
      const w3 = ctx.measureText(p.unit).width;
      let cx = -(w1 + w2 + w3) / 2 + 4;
      ctx.font = fSym;
      ctx.fillText(p.sym, cx, 0);
      cx += w1;
      if (p.sub) {
        ctx.font = fSub;
        ctx.fillText(p.sub, cx, 7);
        cx += w2;
      }
      ctx.font = fUnit;
      ctx.fillText(p.unit, cx, 0);
      ctx.restore();
      ctx.restore();
    },
  };
}

function PanelChart({ p, idx }: { p: Panel; idx: number }) {
  const ref = useRef<HTMLCanvasElement | null>(null);
  useEffect(() => {
    if (!ref.current) return;
    const top = TOPS[idx];
    const last = idx === panels.length - 1;
    const bottomGap = H - (top + PH);
    const chart = new Chart(ref.current, {
      type: 'line',
      data: {
        datasets: p.series.map((s) => ({
          label: s.label,
          data: s.data.map(([x, y]) => ({ x, y })),
          borderColor: s.color,
          backgroundColor: s.color,
          borderWidth: 1.6,
          pointRadius: 0,
          tension: p.smooth ? 0.4 : 0,
          cubicInterpolationMode: p.smooth ? 'monotone' : 'default',
          fill: false,
          order: s.order,
        })),
      },
      options: {
        animation: false,
        responsive: false,
        events: [],
        layout: { padding: { left: 0, right: W - 598, top, bottom: last ? 0 : bottomGap } },
        plugins: { legend: { display: false }, tooltip: { enabled: false } },
        scales: {
          x: {
            type: 'linear',
            min: 15,
            max: 25,
            display: last,
            grid: { display: false },
            border: { display: false },
            afterBuildTicks: (s: any) => { s.ticks = xTickLabels.map((v) => ({ value: v })); },
            afterFit: (s: any) => { if (last) s.height = bottomGap; },
            ticks: { color: '#222', font: { family: FONT_NUM, size: 19 }, padding: 0, maxRotation: 0 },
            title: { display: true, text: '時間（s）', color: '#222', font: { family: FONT_JP, size: 18 }, padding: { top: 0, bottom: 3 } },
          },
          y: {
            type: 'linear',
            min: p.min,
            max: p.max,
            grid: { display: false },
            border: { display: false },
            afterBuildTicks: (s: any) => { s.ticks = p.labels.map((v) => ({ value: v })); },
            afterFit: (s: any) => { s.width = 89; },
            ticks: { color: '#222', font: { family: FONT_NUM, size: 19 }, padding: 7, autoSkip: false, callback: (v: any) => fmt(Number(v)) },
          },
        },
      } as any,
      plugins: [makeFrame(p)],
    });
    return () => chart.destroy();
  }, [p, idx]);
  return (
    <canvas
      ref={ref}
      width={W}
      height={H}
      style={{ position: 'absolute', left: 0, top: 0, width: W, height: H }}
    />
  );
}

export default function App() {
  return (
    <div style={{ position: 'absolute', left: 0, top: 0, width: W, height: H, background: '#fff' }}>
      {panels.map((p, i) => (
        <PanelChart key={i} p={p} idx={i} />
      ))}
    </div>
  );
}
